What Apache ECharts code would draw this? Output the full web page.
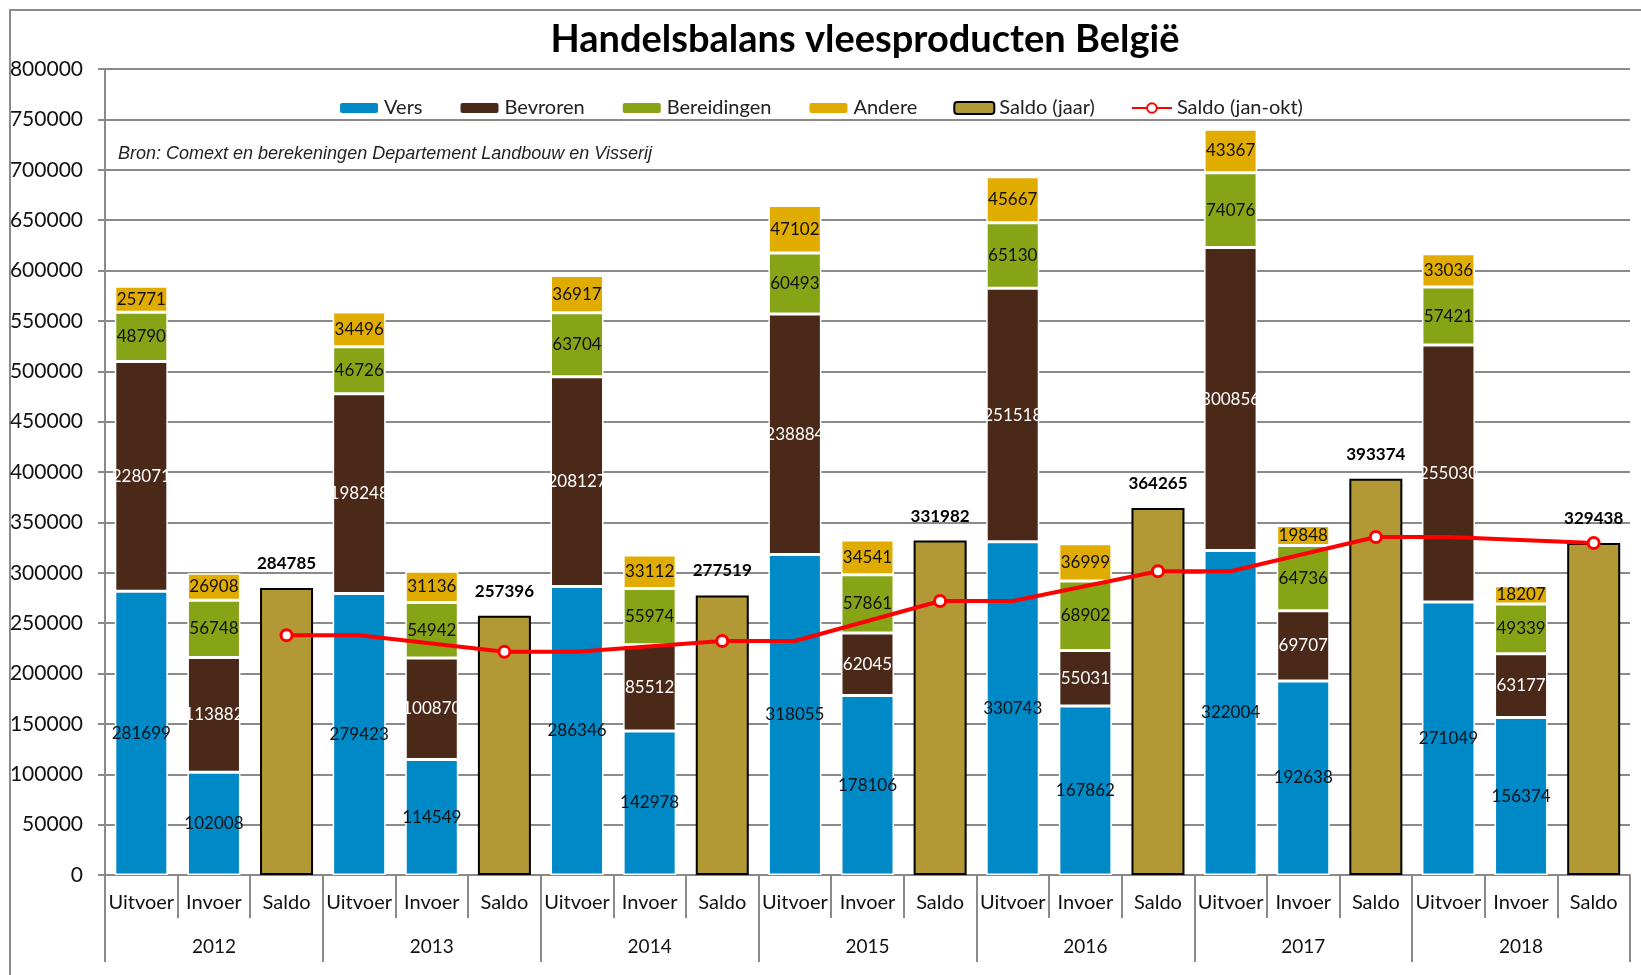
<!DOCTYPE html>
<html>
<head>
<meta charset="utf-8">
<title>Handelsbalans vleesproducten België</title>
<script src="https://cdn.jsdelivr.net/npm/echarts@6/dist/echarts.min.js"></script>
<style>
  html, body { margin: 0; padding: 0; background: #fff; }
  #chart { width: 1641px; height: 975px; }
</style>
</head>
<body>
<div id="chart"></div>
<script>
// jaren en soorten op de x-as
const years = ['2012', '2013', '2014', '2015', '2016', '2017', '2018'];
const kinds = ['Uitvoer', 'Invoer', 'Saldo'];

// gestapelde balken (Uitvoer, Invoer, leeg bij Saldo)
const vers = [281699, 102008, null, 279423, 114549, null, 286346, 142978, null, 318055, 178106, null, 330743, 167862, null, 322004, 192638, null, 271049, 156374, null];
const bevroren = [228071, 113882, null, 198248, 100870, null, 208127, 85512, null, 238884, 62045, null, 251518, 55031, null, 300856, 69707, null, 255030, 63177, null];
const bereidingen = [48790, 56748, null, 46726, 54942, null, 63704, 55974, null, 60493, 57861, null, 65130, 68902, null, 74076, 64736, null, 57421, 49339, null];
const andere = [25771, 26908, null, 34496, 31136, null, 36917, 33112, null, 47102, 34541, null, 45667, 36999, null, 43367, 19848, null, 33036, 18207, null];

// saldo per jaar
const saldoJaar = [284785, 257396, 277519, 331982, 364265, 393374, 329438];
const saldoJanOkt = [238000, 221500, 232300, 272000, 301500, 335500, 329600];

const categories = [];
years.forEach(() => kinds.forEach(k => categories.push(k)));

const saldoBars = [];
const saldoLine = [];
years.forEach((y, i) => {
    saldoBars.push(null, null, saldoJaar[i]);
    // lijn: vlak tot Uitvoer van het volgende jaar, dan naar Saldo
    saldoLine.push(i > 0 ? { value: saldoJanOkt[i - 1], symbol: 'none' } : null);
    saldoLine.push(null);
    saldoLine.push(saldoJanOkt[i]);
});

const FONT = 'Lato, "Noto Sans", sans-serif';
const GRID = '#8a8a8a';

const chart = echarts.init(document.getElementById('chart'));

function stackBar(name, data, color, labelColor) {
    return {
        name: name,
        type: 'bar',
        stack: 'a',
        data: data,
        barCategoryGap: '27%',
        itemStyle: { color: color, borderColor: '#fff', borderWidth: 1.5 },
        label: {
            show: true,
            position: 'inside',
            color: labelColor,
            fontFamily: FONT,
            fontSize: 17
        }
    };
}

chart.setOption({
    animation: false,
    backgroundColor: '#fff',
    title: {
        text: 'Handelsbalans vleesproducten België',
        left: 860,
        top: 16,
        textAlign: 'center',
        textStyle: { fontFamily: FONT, fontWeight: 'bold', fontSize: 38, color: '#000' }
    },
    graphic: [
        {
            type: 'rect',
            silent: true,
            shape: { x: 10, y: 10, width: 1700, height: 1100 },
            style: { fill: 'none', stroke: '#8c8c8c', lineWidth: 2 }
        },
        {
            type: 'text',
            left: 118,
            top: 145,
            style: {
                text: 'Bron: Comext en berekeningen Departement Landbouw en Visserij',
                font: 'italic 18px "Liberation Sans", Arial, sans-serif',
                fill: '#222'
            }
        }
    ],
    legend: {
        top: 93,
        left: 'center',
        itemWidth: 40,
        itemHeight: 12,
        itemGap: 36,
        textStyle: { fontFamily: FONT, fontSize: 20, color: '#222' },
        data: ['Vers', 'Bevroren', 'Bereidingen', 'Andere', 'Saldo (jaar)', 'Saldo (jan-okt)']
    },
    grid: { left: 105, right: 11, top: 69, bottom: 100, containLabel: false },
    xAxis: [
        {
            type: 'category',
            data: categories,
            position: 'bottom',
            offset: 0,
            axisLine: { lineStyle: { color: GRID, width: 2 } },
            axisTick: { show: true, interval: 0, length: 43, lineStyle: { color: GRID, width: 2 } },
            axisLabel: { interval: 0, margin: 18, fontFamily: FONT, fontSize: 20, color: '#111' }
        },
        {
            type: 'category',
            data: years,
            position: 'bottom',
            offset: 0,
            axisLine: { show: false },
            axisTick: { show: true, interval: 0, length: 87, lineStyle: { color: GRID, width: 2 } },
            axisLabel: { interval: 0, margin: 62, fontFamily: FONT, fontSize: 19, color: '#111' }
        }
    ],
    yAxis: {
        type: 'value',
        min: 0,
        max: 800000,
        interval: 50000,
        axisLine: { show: true, lineStyle: { color: GRID, width: 2 } },
        axisTick: { show: true, length: 7, lineStyle: { color: GRID, width: 2 } },
        axisLabel: {
            margin: 22, fontFamily: FONT, fontSize: 21, color: '#111',
            formatter: v => String(v)
        },
        splitLine: { lineStyle: { color: GRID, width: 2 } }
    },
    series: [
        stackBar('Vers', vers, '#0089c7', '#111'),
        stackBar('Bevroren', bevroren, '#4b2918', '#fff'),
        stackBar('Bereidingen', bereidingen, '#87a316', '#111'),
        stackBar('Andere', andere, '#e0ac00', '#111'),
        {
            name: 'Saldo (jaar)',
            type: 'bar',
            stack: 'a',
            data: saldoBars,
            itemStyle: { color: '#b39936', borderColor: '#000', borderWidth: 2 },
            label: {
                show: true,
                position: 'top',
                distance: 16,
                color: '#000',
                fontFamily: FONT,
                fontWeight: 'bold',
                fontSize: 17
            }
        },
        {
            name: 'Saldo (jan-okt)',
            type: 'line',
            data: saldoLine,
            connectNulls: true,
            z: 5,
            symbol: 'circle',
            symbolSize: 11,
            lineStyle: { color: '#ff0000', width: 4 },
            itemStyle: { color: '#fff', borderColor: '#ff0000', borderWidth: 3 }
        }
    ]
});
</script>
</body>
</html>
